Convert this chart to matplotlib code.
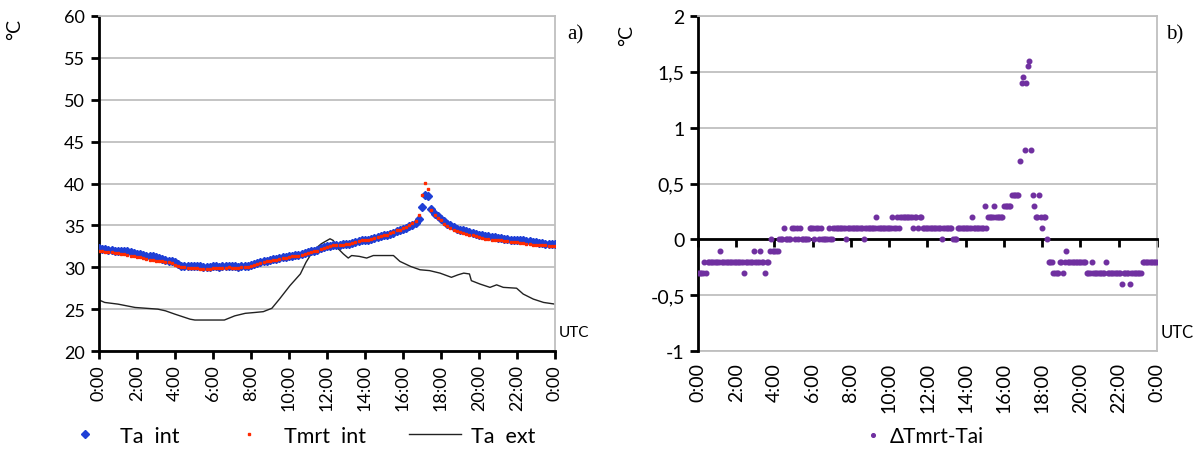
import numpy as np
import matplotlib.pyplot as plt

plt.rcParams['font.family'] = ['Lato', 'DejaVu Sans']

# time grids (hours)
hours10 = np.arange(0, 24 * 60 + 1, 10) / 60
hours5 = np.arange(0, 24 * 60 + 1, 5) / 60

# air temperature inside (10 min)
ta_int = [
    32.3, 32.2, 32.2, 32.1, 32.1, 32.0,
    32.0, 32.0, 31.9, 31.9, 31.8, 31.7,
    31.6, 31.6, 31.5, 31.4, 31.3, 31.3,
    31.2, 31.1, 31.0, 30.9, 30.8, 30.7,
    30.6, 30.4, 30.2, 30.2, 30.1, 30.1,
    30.2, 30.1, 30.1, 30.0, 30.0, 30.0,
    30.1, 30.1, 30.0, 30.1, 30.1, 30.2,
    30.1, 30.1, 30.0, 30.1, 30.1, 30.2,
    30.3, 30.4, 30.5, 30.6, 30.7, 30.8,
    30.9, 31.0, 31.0, 31.1, 31.2, 31.2,
    31.3, 31.4, 31.5, 31.5, 31.6, 31.7,
    31.8, 31.9, 32.0, 32.1, 32.3, 32.4,
    32.5, 32.5, 32.6, 32.7, 32.7, 32.8,
    32.8, 32.8, 32.9, 33.0, 33.1, 33.2,
    33.3, 33.3, 33.4, 33.5, 33.6, 33.7,
    33.8, 33.9, 34.0, 34.1, 34.3, 34.4,
    34.6, 34.7, 34.9, 35.1, 35.3, 35.8,
    37.2, 38.6, 38.5, 37.0, 36.4, 36.1,
    35.8, 35.5, 35.2, 35.0, 34.8, 34.6,
    34.5, 34.4, 34.3, 34.2, 34.1, 34.0,
    33.9, 33.8, 33.7, 33.7, 33.6, 33.6,
    33.5, 33.5, 33.4, 33.4, 33.3, 33.3,
    33.3, 33.2, 33.2, 33.1, 33.1, 33.0,
    33.0, 32.9, 32.9, 32.8, 32.8, 32.8,
    32.8,
]

# mean radiant temperature inside (10 min)
tmrt_int = [
    31.9, 31.9, 31.8, 31.8, 31.8, 31.7,
    31.7, 31.6, 31.6, 31.5, 31.4, 31.3,
    31.2, 31.2, 31.1, 31.0, 30.9, 30.9,
    30.8, 30.8, 30.7, 30.6, 30.6, 30.5,
    30.3, 30.2, 30.0, 30.0, 29.9, 29.9,
    29.9, 29.9, 29.8, 29.8, 29.8, 29.8,
    29.9, 29.9, 29.9, 29.9, 29.9, 30.0,
    29.9, 29.9, 29.9, 30.0, 30.0, 30.0,
    30.1, 30.3, 30.4, 30.5, 30.6, 30.7,
    30.8, 30.9, 30.9, 31.0, 31.1, 31.1,
    31.2, 31.3, 31.4, 31.4, 31.5, 31.6,
    31.7, 31.8, 31.9, 32.0, 32.2, 32.3,
    32.4, 32.5, 32.6, 32.6, 32.7, 32.7,
    32.8, 32.8, 32.9, 33.0, 33.1, 33.2,
    33.2, 33.3, 33.4, 33.5, 33.6, 33.7,
    33.8, 33.9, 34.1, 34.2, 34.4, 34.5,
    34.7, 34.8, 35.0, 35.3, 35.5, 36.2,
    38.6, 40.1, 39.3, 36.8, 36.2, 35.9,
    35.6, 35.2, 34.9, 34.7, 34.5, 34.3,
    34.2, 34.1, 34.0, 33.9, 33.8, 33.7,
    33.6, 33.5, 33.4, 33.4, 33.3, 33.3,
    33.2, 33.2, 33.1, 33.1, 33.0, 33.0,
    33.0, 32.9, 32.9, 32.8, 32.8, 32.7,
    32.7, 32.6, 32.6, 32.6, 32.5, 32.5,
    32.5,
]

# outside air temperature
ext_hours = [0.0, 0.3, 1.0, 1.9, 3.1, 3.5, 4.0, 4.8, 5.05, 6.6, 7.15, 7.7, 8.2,
             8.65, 9.1, 9.5, 10.05, 10.6, 10.9, 11.28, 11.7, 12.16, 12.33, 12.6,
             12.86, 13.12, 13.3, 13.7, 14.09, 14.44, 15.5, 15.84, 16.4, 16.9,
             17.4, 17.95, 18.55, 18.9, 19.2, 19.5, 19.6, 20.05, 20.58, 20.93,
             21.28, 21.98, 22.33, 22.86, 23.4, 24.0]
ta_ext = [26.1, 25.8, 25.6, 25.2, 25.0, 24.8, 24.4, 23.8, 23.7, 23.7, 24.2, 24.5, 24.6,
          24.7, 25.1, 26.2, 27.8, 29.2, 30.6, 32.0, 32.8, 33.4, 33.2, 32.2,
          31.6, 31.1, 31.4, 31.3, 31.1, 31.4, 31.4, 30.7, 30.1, 29.7,
          29.6, 29.3, 28.8, 29.1, 29.3, 29.2, 28.4, 28.0, 27.6, 27.9,
          27.6, 27.5, 26.8, 26.2, 25.8, 25.6]

# Tmrt - Ta difference (5 min)
delta = [
    -0.3, -0.3, -0.3, -0.3, -0.2, -0.3, -0.2, -0.2, -0.2, -0.2, -0.2, -0.2,
    -0.2, -0.2, -0.1, -0.2, -0.2, -0.2, -0.2, -0.2, -0.2, -0.2, -0.2, -0.2,
    -0.2, -0.2, -0.2, -0.2, -0.2, -0.3, -0.2, -0.2, -0.2, -0.2, -0.2, -0.1,
    -0.2, -0.2, -0.2, -0.1, -0.2, -0.2, -0.3, -0.2, -0.2, -0.1, 0.0, -0.1,
    -0.1, -0.1, -0.1, 0.0, 0.0, 0.0, 0.1, 0.0, 0.0, 0.0, 0.0, 0.1,
    0.1, 0.0, 0.1, 0.0, 0.1, 0.0, 0.0, 0.0, 0.0, 0.0, 0.1, 0.1,
    0.1, 0.0, 0.1, 0.1, 0.0, 0.1, 0.0, 0.0, 0.0, 0.0, 0.1, 0.0,
    0.0, 0.1, 0.1, 0.1, 0.1, 0.1, 0.1, 0.1, 0.1, 0.0, 0.1, 0.1,
    0.1, 0.1, 0.1, 0.1, 0.1, 0.1, 0.1, 0.1, 0.0, 0.1, 0.1, 0.1,
    0.1, 0.1, 0.1, 0.1, 0.2, 0.1, 0.1, 0.1, 0.1, 0.1, 0.1, 0.1,
    0.1, 0.1, 0.2, 0.1, 0.1, 0.2, 0.1, 0.2, 0.2, 0.2, 0.2, 0.2,
    0.2, 0.2, 0.2, 0.1, 0.2, 0.2, 0.1, 0.2, 0.2, 0.1, 0.1, 0.1,
    0.1, 0.1, 0.1, 0.1, 0.1, 0.1, 0.1, 0.1, 0.1, 0.0, 0.1, 0.1,
    0.1, 0.1, 0.1, 0.1, 0.0, 0.0, 0.0, 0.1, 0.1, 0.1, 0.1, 0.1,
    0.1, 0.1, 0.1, 0.1, 0.2, 0.1, 0.1, 0.1, 0.1, 0.1, 0.1, 0.1,
    0.3, 0.1, 0.2, 0.2, 0.2, 0.2, 0.3, 0.2, 0.2, 0.2, 0.2, 0.2,
    0.3, 0.3, 0.3, 0.3, 0.3, 0.4, 0.4, 0.4, 0.4, 0.4, 0.7, 1.4,
    1.45, 0.8, 1.4, 1.55, 1.6, 0.8, 0.4, 0.3, 0.2, 0.2, 0.4, 0.2,
    0.1, 0.2, 0.2, 0.0, -0.2, -0.2, -0.2, -0.3, -0.3, -0.3, -0.3, -0.2,
    -0.2, -0.3, -0.2, -0.1, -0.2, -0.2, -0.2, -0.2, -0.2, -0.2, -0.2, -0.2,
    -0.2, -0.2, -0.2, -0.2, -0.3, -0.3, -0.3, -0.2, -0.3, -0.3, -0.3, -0.3,
    -0.3, -0.3, -0.3, -0.3, -0.2, -0.3, -0.3, -0.3, -0.3, -0.3, -0.3, -0.3,
    -0.3, -0.3, -0.4, -0.3, -0.3, -0.3, -0.3, -0.4, -0.3, -0.3, -0.3, -0.3,
    -0.3, -0.3, -0.3, -0.2, -0.2, -0.2, -0.2, -0.2, -0.2, -0.2, -0.2, -0.2,
    -0.2,
]

tick_hours = list(range(0, 25, 2))
tick_labels = ['0:00', '2:00', '4:00', '6:00', '8:00', '10:00', '12:00',
               '14:00', '16:00', '18:00', '20:00', '22:00', '0:00']

grid_c = '#bfbfbf'
blue = '#1f3fd6'
red = '#ff2a00'
purple = '#7030a0'

fig = plt.figure(figsize=(11.95, 4.52), dpi=100)
ax1 = fig.add_axes([0.0828, 0.2212, 0.3816, 0.7412])
ax2 = fig.add_axes([0.5841, 0.2212, 0.3841, 0.7412])

# ---- panel a ----
ax1.plot(hours10, ta_int, linestyle='none', marker='D', markersize=4.0,
         color=blue, label='Ta  int', zorder=3)
ax1.plot(hours10, tmrt_int, linestyle='none', marker='s', markersize=2.0,
         color=red, label='Tmrt  int', zorder=4)
ax1.plot(ext_hours, ta_ext, color='#222222', linewidth=1.0, label='Ta  ext', zorder=2)
ax1.set_xlim(0, 24)
ax1.set_ylim(20, 60)
ax1.set_yticks(range(20, 61, 5))
ax1.set_xticks(tick_hours)
ax1.set_xticklabels(tick_labels, rotation=90)
ax1.yaxis.grid(True, color=grid_c, linewidth=1.3)
ax1.set_axisbelow(True)
for s in ['top', 'right']:
    ax1.spines[s].set_color(grid_c)
    ax1.spines[s].set_linewidth(1.3)
for s in ['left', 'bottom']:
    ax1.spines[s].set_color('black')
    ax1.spines[s].set_linewidth(2)
ax1.tick_params(axis='both', direction='out', length=6, width=2, labelsize=13,
                colors='black')
ax1.tick_params(axis='y', pad=4)
ax1.legend(loc='center', bbox_to_anchor=(297 / 1195, 1 - 437 / 452),
           bbox_transform=fig.transFigure, ncol=3, frameon=False,
           fontsize=15.5, columnspacing=2.0, handlelength=2.4,
           handletextpad=0.45, markerscale=0.9)
fig.text(15 / 1195, 1 - 30 / 452, '°C', rotation=90, fontsize=14,
         ha='center', va='center')
fig.text(575 / 1195, 1 - 35 / 452, 'a)', fontsize=15, family='Liberation Serif',
         ha='center', va='center')
fig.text(574 / 1195, 1 - 333 / 452, 'UTC', fontsize=11, ha='center', va='center')

# ---- panel b ----
ax2.plot(hours5, delta, linestyle='none', marker='o', markersize=3.3,
         color=purple, label='ΔTmrt-Tai', zorder=3)
ax2.set_xlim(0, 24)
ax2.set_ylim(-1, 2)
ax2.set_yticks([-1, -0.5, 0, 0.5, 1, 1.5, 2])
ax2.set_yticklabels(['-1', '-0,5', '0', '0,5', '1', '1,5', '2'])
ax2.yaxis.grid(True, color=grid_c, linewidth=1.3)
ax2.set_axisbelow(True)
for s in ['top', 'right']:
    ax2.spines[s].set_color(grid_c)
    ax2.spines[s].set_linewidth(1.3)
ax2.spines['left'].set_linewidth(2)
ax2.spines['bottom'].set_position(('data', 0))
ax2.spines['bottom'].set_linewidth(2)
ax2.spines['bottom'].set_zorder(2.5)
ax2.set_xticks(tick_hours)
ax2.tick_params(axis='x', direction='out', length=6, width=2, labelbottom=False)
ax2.tick_params(axis='y', direction='out', length=6, width=2, labelsize=14)
sec = ax2.secondary_xaxis(0)
sec.set_xticks(tick_hours)
sec.set_xticklabels(tick_labels, rotation=90)
sec.tick_params(length=0, labelsize=14, pad=8)
sec.spines['bottom'].set_color(grid_c)
sec.spines['bottom'].set_linewidth(1.3)
ax2.legend(loc='center', bbox_to_anchor=(922 / 1195, 1 - 437 / 452),
           bbox_transform=fig.transFigure, frameon=False, fontsize=15,
           handlelength=1.2, handletextpad=0.2, markerscale=0.8)
fig.text(627 / 1195, 1 - 35 / 452, '°C', rotation=90, fontsize=14,
         ha='center', va='center')
fig.text(1175 / 1195, 1 - 35 / 452, 'b)', fontsize=15, family='Liberation Serif',
         ha='center', va='center')
fig.text(1177 / 1195, 1 - 333 / 452, 'UTC', fontsize=12, ha='center', va='center')

fig.savefig('out.png', dpi=100)
